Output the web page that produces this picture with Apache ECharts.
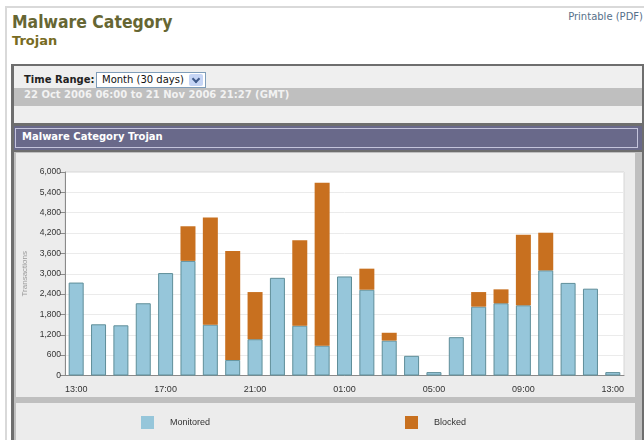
<!DOCTYPE html>
<html>
<head>
<meta charset="utf-8">
<script src="https://cdn.jsdelivr.net/npm/echarts@6/dist/echarts.min.js"></script>
<style>
  html, body { margin:0; padding:0; width:644px; height:440px; overflow:hidden; background:#fff; }
  .abs { position:absolute; }
  .dv { font-family:"DejaVu Sans", Verdana, sans-serif; white-space:nowrap; line-height:normal; }
</style>
</head>
<body>
<!-- page frame -->
<div class="abs" style="left:5px;top:6px;width:639px;height:2px;background:#d9d9d9;"></div>
<div class="abs" style="left:5px;top:6px;width:2px;height:434px;background:#d9d9d9;"></div>

<div class="abs dv" style="left:12px;top:11px;font-size:18px;font-weight:bold;color:#666633;transform:scaleX(0.87);transform-origin:0 0;">Malware Category</div>
<div class="abs dv" style="left:12px;top:33px;font-size:13px;font-weight:bold;color:#776b22;">Trojan</div>
<div class="abs dv" style="right:1px;top:11px;font-size:10px;color:#56708a;">Printable (PDF)</div>

<!-- panel -->
<div class="abs" style="left:11px;top:64px;width:633px;height:376px;background:#6e6e6e;"></div>
<div class="abs" style="left:14px;top:66px;width:628px;height:22px;background:#efefef;"></div>
<div class="abs" style="left:14px;top:88px;width:628px;height:18px;background:#bfbfbf;"></div>
<div class="abs" style="left:14px;top:106px;width:628px;height:17px;background:#efefef;"></div>
<div class="abs" style="left:14px;top:126px;width:628px;height:24px;background:#69698a;"></div>
<div class="abs" style="left:15px;top:128px;width:621px;height:18px;border:1px solid #c4c4dc;"></div>

<div class="abs dv" style="left:24px;top:74px;font-size:10px;font-weight:bold;color:#222;">Time Range:</div>
<div class="abs" style="left:96px;top:72px;width:108px;height:14px;background:#fff;border:1px solid #7f9db9;"></div>
<div class="abs dv" style="left:102px;top:74px;font-size:10px;color:#111;">Month (30 days)</div>
<div class="abs" style="left:189px;top:74px;width:14px;height:12px;background:#c6d5f5;border-radius:2px;"></div>
<div class="abs" style="left:193px;top:76px;width:4px;height:4px;border-right:2px solid #3f5a8a;border-bottom:2px solid #3f5a8a;transform:rotate(45deg);"></div>

<div class="abs dv" style="left:24px;top:89px;font-size:10px;font-weight:bold;color:#f2f2f2;">22 Oct 2006 06:00 to 21 Nov 2006 21:27 (GMT)</div>
<div class="abs dv" style="left:22px;top:131px;font-size:10px;font-weight:bold;color:#ffffff;">Malware Category Trojan</div>

<!-- chart area frame -->
<div class="abs" style="left:14px;top:152px;width:628px;height:288px;background:#bfbfbf;"></div>
<div class="abs" style="left:16px;top:153px;width:619px;height:244px;background:#ececec;"></div>
<div class="abs" style="left:16px;top:403px;width:619px;height:37px;background:#ececec;"></div>

<div id="chart" class="abs" style="left:0;top:0;width:644px;height:440px;z-index:10;"></div>

<script>
const hours = ["13:00","14:00","15:00","16:00","17:00","18:00","19:00","20:00","21:00","22:00","23:00","00:00","01:00",
               "02:00","03:00","04:00","05:00","06:00","07:00","08:00","09:00","10:00","11:00","12:00","13:00"];
const monitored = [2740,1510,1480,2130,3020,3380,1500,460,1070,2880,1470,880,2920,
                   2530,1030,580,100,1130,2030,2130,2070,3100,2730,2560,100];
const blocked   = [0,0,0,0,0,1020,3160,3210,1390,0,2520,4800,0,
                   620,230,0,0,0,430,410,2080,1110,0,0,0];
const yMin = 0, yMax = 6000, yStep = 600;

const axisGray = '#8a8a8a';
const chart = echarts.init(document.getElementById('chart'), null, {renderer:'canvas'});
chart.setOption({
  animation: false,
  backgroundColor: 'transparent',
  textStyle: { fontFamily: '"Liberation Sans", Arial, sans-serif' },
  grid: { left:65, top:172, width:559, height:203.5, show:true, backgroundColor:'#ffffff', borderColor:'#d6d6d6', borderWidth:1 },
  legend: [
    { data:['Monitored'], left:141, top:416, padding:0, itemWidth:13, itemHeight:13, icon:'rect',
      itemStyle:{borderWidth:0}, textStyle:{fontSize:9, color:'#333', padding:[0,0,0,11]} },
    { data:['Blocked'], left:405, top:416, padding:0, itemWidth:13, itemHeight:13, icon:'rect',
      itemStyle:{borderWidth:0}, textStyle:{fontSize:9, color:'#333', padding:[0,0,0,11]} }
  ],
  xAxis: [
    { type:'category', data:hours, boundaryGap:true,
      axisLine:{ lineStyle:{ color:axisGray, width:1 } },
      axisTick:{ interval:0, length:3, lineStyle:{ color:axisGray } },
      axisLabel:{ interval:3, margin:10, fontSize:9, color:'#333' },
      splitLine:{ show:false } },
    { type:'category', data:hours, boundaryGap:true, position:'bottom',
      axisLine:{ show:false },
      axisTick:{ interval:function(i){ return i % 4 === 0 || i % 4 === 1; }, length:7, lineStyle:{ color:axisGray } },
      axisLabel:{ show:false }, splitLine:{ show:false } }
  ],
  yAxis: {
    type:'value', min:yMin, max:yMax, interval:yStep,
    name:'Transactions', nameLocation:'middle', nameGap:32,
    nameTextStyle:{ fontSize:8, color:'#9a9a9a' },
    axisLine:{ show:true, lineStyle:{ color:axisGray } },
    axisTick:{ show:true, length:5, lineStyle:{ color:axisGray } },
    axisLabel:{ fontSize:8.5, color:'#333', margin:4, formatter: v => v.toLocaleString('en-US') },
    splitLine:{ lineStyle:{ color:'#ebebeb', width:1 } }
  },
  series: [
    { name:'Monitored', type:'bar', stack:'t', data:monitored, barWidth:15,
      itemStyle:{ color:'#96c6da', borderColor:'#5f8e99', borderWidth:1 } },
    { name:'Blocked', type:'bar', stack:'t', data:blocked, barWidth:15,
      itemStyle:{ color:'#c8701f', borderWidth:0 } }
  ]
});
</script>
</body>
</html>
